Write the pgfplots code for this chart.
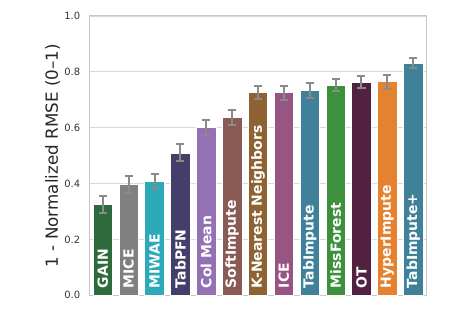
\documentclass[border=0pt]{standalone}
\usepackage{fontspec}
\setmainfont{DejaVu Sans}
\usepackage{pgfplots}
\pgfplotsset{compat=1.18}
\definecolor{cGAIN}{HTML}{2E6A3B}
\definecolor{cMICE}{HTML}{808080}
\definecolor{cMIWAE}{HTML}{2DAABA}
\definecolor{cTabPFN}{HTML}{443E6A}
\definecolor{cColMean}{HTML}{9471B4}
\definecolor{cSoft}{HTML}{8A5A54}
\definecolor{cKNN}{HTML}{8E6232}
\definecolor{cICE}{HTML}{975584}
\definecolor{cTab}{HTML}{3F8199}
\definecolor{cMF}{HTML}{3E913C}
\definecolor{cOT}{HTML}{52213F}
\definecolor{cHyper}{HTML}{E4822F}
\definecolor{cTabP}{HTML}{3F8199}
\definecolor{errgray}{HTML}{8A8A8A}
\pgfplotsset{
  barp/.style={fill=#1, draw=white, line width=0.6bp,
    error bars/.cd, y dir=both, y explicit,
    error bar style={draw=errgray, line width=2bp},
    error mark options={draw=errgray, line width=2bp, mark size=4bp, rotate=90}}
}
\tikzset{
  lab/.style={rotate=90, anchor=west, text=white, inner sep=0pt,
    font=\fontsize{14}{17}\selectfont\bfseries}
}
\begin{document}
\begin{tikzpicture}
\begin{axis}[
  scale only axis, width=337.4bp, height=279.3bp,
  at={(0,0)}, anchor=south west,
  xmin=-0.52, xmax=12.52, ymin=0, ymax=1,
  axis line style={draw=black!22, line width=1bp},
  ymajorgrids, grid style={draw=black!15, line width=0.8bp},
  xtick=\empty,
  ytick={0,0.2,0.4,0.6,0.8,1},
  major tick length=0pt,
  /pgf/number format/assume math mode=true,
  yticklabel style={font=\fontsize{10}{12}\selectfont, text=black!80,
    /pgf/number format/fixed, /pgf/number format/fixed zerofill,
    /pgf/number format/precision=1, anchor=east, inner sep=0pt, xshift=-9bp},
  every axis y label/.style={at={(axis description cs:-0.1088,0.5)}, rotate=90, anchor=center},
  ylabel={1 - Normalized RMSE (0–1)},
  ylabel style={font=\fontsize{16.8}{19}\selectfont, text=black!85},
  ybar, bar width=0.75, bar shift=0pt,
  clip=false
]
\addplot[barp=cGAIN]    coordinates {(0,0.325) +- (0,0.029)};
\addplot[barp=cMICE]    coordinates {(1,0.398) +- (0,0.030)};
\addplot[barp=cMIWAE]   coordinates {(2,0.409) +- (0,0.025)};
\addplot[barp=cTabPFN]  coordinates {(3,0.510) +- (0,0.030)};
\addplot[barp=cColMean] coordinates {(4,0.600) +- (0,0.027)};
\addplot[barp=cSoft]    coordinates {(5,0.636) +- (0,0.028)};
\addplot[barp=cKNN]     coordinates {(6,0.726) +- (0,0.024)};
\addplot[barp=cICE]     coordinates {(7,0.726) +- (0,0.025)};
\addplot[barp=cTab]     coordinates {(8,0.734) +- (0,0.026)};
\addplot[barp=cMF]      coordinates {(9,0.752) +- (0,0.022)};
\addplot[barp=cOT]      coordinates {(10,0.764) +- (0,0.022)};
\addplot[barp=cHyper]   coordinates {(11,0.765) +- (0,0.025)};
\addplot[barp=cTabP]    coordinates {(12,0.832) +- (0,0.019)};
\node[lab] at (axis cs:0,0.025) {GAIN};
\node[lab] at (axis cs:1,0.025) {MICE};
\node[lab] at (axis cs:2,0.025) {MIWAE};
\node[lab] at (axis cs:3,0.025) {TabPFN};
\node[lab] at (axis cs:4,0.025) {Col Mean};
\node[lab] at (axis cs:5,0.025) {SoftImpute};
\node[lab] at (axis cs:6,0.025) {K-Nearest Neighbors};
\node[lab] at (axis cs:7,0.025) {ICE};
\node[lab] at (axis cs:8,0.025) {TabImpute};
\node[lab] at (axis cs:9,0.025) {MissForest};
\node[lab] at (axis cs:10,0.025) {OT};
\node[lab] at (axis cs:11,0.025) {HyperImpute};
\node[lab] at (axis cs:12,0.025) {TabImpute+};
\end{axis}
\pgfresetboundingbox
\path[use as bounding box] (-89.3bp,-16bp) rectangle (359.7bp,295.3bp);
\end{tikzpicture}
\end{document}
